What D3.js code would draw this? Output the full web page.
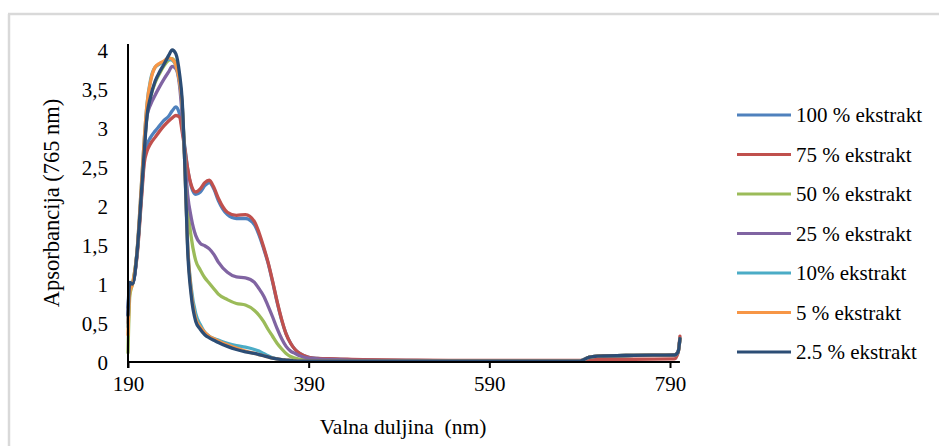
<!DOCTYPE html>
<html><head><meta charset="utf-8">
<script src="https://cdn.jsdelivr.net/npm/d3@7"></script>
<style>html,body{margin:0;padding:0;background:#fff}svg{display:block}</style>
</head><body>
<svg id="c" width="939" height="446"></svg>
<script>
const wavelengths = [190,192,195,200,205,208,211,215,220,225,230,235,239,243,247,250,253,256,260,265,270,275,280,285,290,300,310,320,330,335,340,345,350,355,360,365,370,375,380,390,400,420,450,500,550,600,650,690,700,710,750,795,799,801];

const seriesNames = ["100 % ekstrakt","75 % ekstrakt","50 % ekstrakt","25 % ekstrakt","10% ekstrakt","5 % ekstrakt","2.5 % ekstrakt"];
const seriesColors = ["#4F81BD","#C0504D","#9BBB59","#8064A2","#4BACC6","#F79646","#2C4D75"];

const s100 = [0.7,1.0,1.0,1.38,2.15,2.6,2.78,2.88,2.96,3.03,3.1,3.15,3.22,3.27,3.18,3.0,2.75,2.48,2.25,2.15,2.18,2.26,2.3,2.22,2.07,1.89,1.84,1.84,1.76,1.63,1.46,1.27,1.03,0.77,0.54,0.36,0.24,0.16,0.11,0.06,0.045,0.035,0.025,0.02,0.015,0.012,0.012,0.015,0.06,0.075,0.085,0.09,0.14,0.3];
const s75 = [0.5,0.95,1.0,1.35,2.1,2.55,2.7,2.8,2.88,2.96,3.03,3.09,3.13,3.16,3.14,2.95,2.72,2.48,2.27,2.18,2.22,2.3,2.33,2.24,2.1,1.92,1.88,1.89,1.8,1.66,1.48,1.28,1.04,0.78,0.55,0.36,0.24,0.16,0.11,0.06,0.045,0.04,0.03,0.025,0.02,0.02,0.02,0.02,0.03,0.035,0.035,0.04,0.12,0.33];
const s50 = [0.12,0.85,1.0,1.4,2.2,2.75,3.15,3.4,3.58,3.7,3.8,3.87,3.89,3.82,3.62,3.25,2.6,2.0,1.6,1.3,1.18,1.08,1.01,0.94,0.87,0.8,0.75,0.73,0.66,0.6,0.52,0.42,0.33,0.24,0.17,0.11,0.07,0.05,0.035,0.025,0.02,0.015,0.012,0.01,0.01,0.01,0.01,0.012,0.06,0.075,0.085,0.09,0.13,0.3];
const s25 = [0.6,1.0,1.0,1.4,2.2,2.75,3.15,3.3,3.42,3.53,3.63,3.72,3.79,3.76,3.55,3.15,2.6,2.15,1.85,1.62,1.52,1.49,1.45,1.38,1.28,1.15,1.09,1.08,1.02,0.94,0.85,0.72,0.58,0.43,0.3,0.2,0.14,0.11,0.08,0.05,0.04,0.03,0.02,0.015,0.012,0.01,0.01,0.012,0.06,0.075,0.085,0.09,0.13,0.3];
const s10 = [0.45,0.95,1.0,1.42,2.3,2.85,3.3,3.62,3.78,3.82,3.85,3.88,3.87,3.8,3.6,3.3,2.5,1.5,0.95,0.62,0.48,0.38,0.33,0.3,0.28,0.24,0.21,0.19,0.16,0.14,0.11,0.08,0.055,0.04,0.025,0.02,0.015,0.012,0.01,0.01,0.01,0.01,0.01,0.01,0.01,0.01,0.01,0.012,0.06,0.075,0.085,0.09,0.13,0.3];
const s5 = [0.35,0.9,1.0,1.42,2.3,2.85,3.3,3.6,3.78,3.83,3.86,3.9,3.88,3.8,3.6,3.3,2.5,1.5,0.9,0.56,0.45,0.38,0.33,0.3,0.27,0.22,0.18,0.14,0.11,0.095,0.08,0.065,0.05,0.04,0.03,0.025,0.02,0.015,0.012,0.01,0.01,0.01,0.01,0.01,0.01,0.01,0.01,0.012,0.06,0.075,0.085,0.09,0.13,0.3];
const s2_5 = [0.6,1.02,1.0,1.4,2.2,2.7,3.15,3.4,3.6,3.72,3.82,3.93,4.0,3.95,3.7,3.35,2.5,1.45,0.85,0.52,0.42,0.35,0.31,0.28,0.25,0.2,0.16,0.13,0.11,0.095,0.08,0.065,0.05,0.04,0.03,0.025,0.02,0.015,0.012,0.01,0.01,0.01,0.01,0.01,0.01,0.01,0.01,0.012,0.06,0.075,0.085,0.09,0.13,0.3];

const seriesValues = [s100,s75,s50,s25,s10,s5,s2_5];
const xTicks = [190,390,590,790];
const yTicks = [0,0.5,1,1.5,2,2.5,3,3.5,4];
const xTitle = "Valna duljina  (nm)";
const yTitle = "Apsorbancija (765 nm)";

const svg = d3.select("#c");
const font = "'Liberation Serif','Times New Roman',serif";

// outer chart border (cropped)
svg.append("line").attr("x1",8).attr("x2",939).attr("y1",14).attr("y2",14).attr("stroke","#d9d9d9").attr("stroke-width",2.5);
svg.append("line").attr("x1",9).attr("x2",9).attr("y1",14).attr("y2",446).attr("stroke","#d9d9d9").attr("stroke-width",2.5);

const x = d3.scaleLinear().domain([190,790]).range([128,670]);
const y = d3.scaleLinear().domain([0,4]).range([362,50]);

// y tick labels
const yAxis = d3.axisLeft(y).tickValues(yTicks).tickSize(0).tickPadding(20)
  .tickFormat(d => String(d).replace(".", ","));
const gy = svg.append("g").attr("transform","translate(128,0)").call(yAxis);
gy.select(".domain").remove();
gy.selectAll("text").attr("font-family",font).attr("font-size",21).attr("fill","#000").attr("dy","0.35em");

// x axis
const xAxis = d3.axisBottom(x).tickValues(xTicks).tickSize(6).tickPadding(8).tickFormat(d3.format("d"));
const gx = svg.append("g").attr("transform","translate(0,362)").call(xAxis);
gx.select(".domain").remove();
gx.selectAll("line").attr("stroke","#000").attr("stroke-width",2);
gx.selectAll("text").attr("font-family",font).attr("font-size",21).attr("fill","#000");

// lines
const line = d3.line().x((d,i)=>x(wavelengths[i])).y(d=>y(d)).curve(d3.curveMonotoneX);
seriesValues.forEach((vals,k)=>{
  svg.append("path").datum(vals).attr("d",line).attr("fill","none")
    .attr("stroke",seriesColors[k]).attr("stroke-width",3.3).attr("stroke-linejoin","round").attr("stroke-linecap","round");
});

// axis lines
svg.append("line").attr("x1",x(190)).attr("x2",x(801)).attr("y1",y(0)).attr("y2",y(0)).attr("stroke","#000").attr("stroke-width",2);
svg.append("line").attr("x1",x(190)).attr("x2",x(190)).attr("y1",y(4)-6).attr("y2",y(0)+6).attr("stroke","#000").attr("stroke-width",2);

// titles
svg.append("text").attr("x",403).attr("y",434).attr("text-anchor","middle").attr("font-family",font).attr("font-size",21.5).style("white-space","pre").text(xTitle);
svg.append("text").attr("transform","translate(59,203) rotate(-90)").attr("text-anchor","middle").attr("font-family",font).attr("font-size",22.5).text(yTitle);

// legend
const lg = svg.append("g");
seriesNames.forEach((n,k)=>{
  const yy = 115 + k*39.5;
  lg.append("line").attr("x1",737).attr("x2",791).attr("y1",yy).attr("y2",yy).attr("stroke",seriesColors[k]).attr("stroke-width",3);
  lg.append("text").attr("x",796).attr("y",yy).attr("dy","0.35em").attr("font-family",font).attr("font-size",21).text(n);
});
</script>
</body></html>
